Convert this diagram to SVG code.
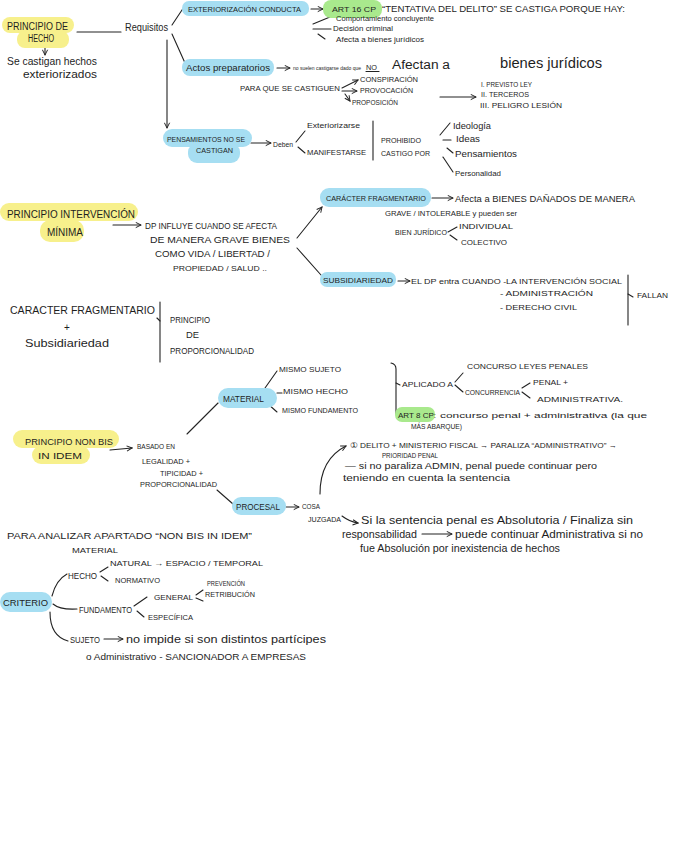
<svg xmlns="http://www.w3.org/2000/svg" width="673" height="848" viewBox="0 0 673 848" font-size="8">
<defs>
<style>
.t{font-family:"Liberation Sans",Arial,sans-serif;fill:#1e1e1e}
.ln{fill:none;stroke:#222;stroke-width:1.1;stroke-linecap:round}
.ar{fill:none;stroke:#222;stroke-width:1.1;stroke-linecap:round;marker-end:url(#ah)}
.y{fill:#f7f08c}
.b{fill:#a6def2}
.g{fill:#a9e98d}
</style>
<marker id="ah" viewBox="0 0 8 8" refX="7" refY="4" markerWidth="7" markerHeight="7" orient="auto" markerUnits="userSpaceOnUse">
<path d="M1,1 L7,4 L1,7" fill="none" stroke="#222" stroke-width="1.1"/>
</marker>
</defs>
<rect width="673" height="848" fill="#ffffff"/>

<g id="connectors">
<path class="ar" d="M45,46 L45,55"/>
<path class="ln" d="M77,32 L121,32"/>
<path class="ln" d="M172,25 L184,7"/>
<path class="ln" d="M172,34 L185,63"/>
<path class="ar" d="M167,40 L167,128"/>
<path class="ar" d="M311,9 L323,9"/>
<path class="ln" d="M313,24 L330,17"/>
<path class="ln" d="M313,29 L331,29"/>
<path class="ln" d="M318,34 L325,39"/>
<path class="ar" d="M277,68 L290,68"/>
<path class="ln" d="M366,71.5 L379,71.5"/>
<path class="ar" d="M342,88 L358,80"/>
<path class="ar" d="M342,91 L357,91"/>
<path class="ar" d="M345,94 L350,101"/>
<path class="ar" d="M440,97 L476,97"/>
<path class="ar" d="M251,143 L271,143"/>
<path class="ln" d="M296,142 L305,131"/>
<path class="ln" d="M298,147 L305,153"/>
<path class="ln" d="M373,121 L373,160"/>
<path class="ln" d="M440,135 L450,123"/>
<path class="ln" d="M443,140 L451,140"/>
<path class="ln" d="M447,148 L453,153"/>
<path class="ln" d="M443,157 L453,172"/>
<path class="ar" d="M113,225 L141,225"/>
<path class="ar" d="M297,238 L322,207"/>
<path class="ln" d="M297,248 L321,275"/>
<path class="ar" d="M432,198 L453,198"/>
<path class="ln" d="M448,232 L457,227"/>
<path class="ln" d="M450,235 L457,240"/>
<path class="ar" d="M398,281 L410,281"/>
<path class="ln" d="M628,275 L628,325"/>
<path class="ln" d="M628,294 L633,297"/>
<path class="ln" d="M160,302 L160,362"/>
<path class="ln" d="M157,318 L160,321"/>
<path class="ln" d="M265,388 L277,371"/>
<path class="ln" d="M277,393 L282,393"/>
<path class="ln" d="M268,404 L277,412"/>
<path class="ln" d="M218,403 L187,434"/>
<path class="ln" d="M391,363 Q396,364 396,369 L396,414"/>
<path class="ln" d="M396,383 L400,385"/>
<path class="ln" d="M455,382 L463,373"/>
<path class="ln" d="M455,385 L463,392"/>
<path class="ln" d="M522,388 L530,383"/>
<path class="ln" d="M522,392 L530,398"/>
<path class="ar" d="M110,450 L132,448"/>
<path class="ln" d="M217,490 L233,504"/>
<path class="ar" d="M286,507 L299,507"/>
<path class="ar" d="M320,494 C320,472 328,455 346,446"/>
<path class="ar" d="M342,516 Q350,522 358,523"/>
<path class="ar" d="M422,534 L452,534"/>
<path class="ln" d="M52,596 Q56,580 67,574"/>
<path class="ln" d="M53,604 Q60,610 77,609"/>
<path class="ln" d="M50,612 Q50,636 68,641"/>
<path class="ln" d="M100,572 L108,567"/>
<path class="ln" d="M101,576 L108,581"/>
<path class="ln" d="M134,606 L147,597"/>
<path class="ln" d="M137,611 L144,617"/>
<path class="ln" d="M196,595 L203,590"/>
<path class="ln" d="M196,598 L203,601"/>
<path class="ar" d="M104,639 L123,639"/>
</g>

<g id="principio-hecho">
<rect class="y" x="2" y="17" width="72" height="16" rx="8"/>
<rect class="y" x="17" y="31" width="52" height="17" rx="8"/>
<text class="t" x="7" y="30" font-size="10" textLength="61" lengthAdjust="spacingAndGlyphs">PRINCIPIO DE</text>
<text class="t" x="28" y="42" font-size="10" textLength="26" lengthAdjust="spacingAndGlyphs">HECHO</text>
</g>
<g id="se-castigan">
<text class="t" x="7" y="65" font-size="11" textLength="90" lengthAdjust="spacingAndGlyphs">Se castigan hechos</text>
<text class="t" x="23" y="78" font-size="11" textLength="74" lengthAdjust="spacingAndGlyphs">exteriorizados</text>
</g>
<g id="requisitos">
<text class="t" x="125" y="31" font-size="11" textLength="43" lengthAdjust="spacingAndGlyphs">Requisitos</text>
</g>
<g id="exteriorizacion">
<rect class="b" x="182" y="1" width="127" height="15" rx="7"/>
<text class="t" x="188" y="12" textLength="113" lengthAdjust="spacingAndGlyphs">EXTERIORIZACIÓN CONDUCTA</text>
</g>
<g id="art16">
<rect class="g" x="323" y="0" width="59" height="18" rx="8"/>
<text class="t" x="332" y="12" textLength="44" lengthAdjust="spacingAndGlyphs">ART 16 CP</text>
<text class="t" x="382" y="12" font-size="8.5" textLength="243" lengthAdjust="spacingAndGlyphs">“TENTATIVA DEL DELITO” SE CASTIGA PORQUE HAY:</text>
</g>
<g id="tentativa-items">
<text class="t" x="336" y="21" font-size="7.5" textLength="98" lengthAdjust="spacingAndGlyphs">Comportamiento concluyente</text>
<text class="t" x="333" y="31" font-size="7.5" textLength="60" lengthAdjust="spacingAndGlyphs">Decisión criminal</text>
<text class="t" x="336" y="42" textLength="88" lengthAdjust="spacingAndGlyphs">Afecta a bienes jurídicos</text>
</g>
<g id="actos">
<rect class="b" x="182" y="59" width="92" height="17" rx="8"/>
<text class="t" x="186" y="71" font-size="9.5" textLength="84" lengthAdjust="spacingAndGlyphs">Actos preparatorios</text>
</g>
<g id="no-suelen">
<text class="t" x="293" y="69.5" font-size="5" textLength="68" lengthAdjust="spacingAndGlyphs">no suelen castigarse dado que</text>
<text class="t" x="366" y="69.5" font-size="6.5" textLength="11" lengthAdjust="spacingAndGlyphs">NO</text>
<text class="t" x="392" y="69" font-size="12" textLength="58" lengthAdjust="spacingAndGlyphs">Afectan a</text>
<text class="t" x="500" y="68" font-size="14" textLength="102" lengthAdjust="spacingAndGlyphs">bienes jurídicos</text>
</g>
<g id="para-que">
<text class="t" x="240" y="91" font-size="7.5" textLength="100" lengthAdjust="spacingAndGlyphs">PARA QUE SE CASTIGUEN</text>
<text class="t" x="360" y="82" font-size="7" textLength="58" lengthAdjust="spacingAndGlyphs">CONSPIRACIÓN</text>
<text class="t" x="360" y="93" font-size="7.5" textLength="53" lengthAdjust="spacingAndGlyphs">PROVOCACIÓN</text>
<text class="t" x="352" y="105" font-size="7" textLength="46" lengthAdjust="spacingAndGlyphs">PROPOSICIÓN</text>
</g>
<g id="requisitos-list">
<text class="t" x="481" y="87" font-size="7" textLength="51" lengthAdjust="spacingAndGlyphs">I. PREVISTO LEY</text>
<text class="t" x="481" y="97" font-size="7" textLength="48" lengthAdjust="spacingAndGlyphs">II. TERCEROS</text>
<text class="t" x="480" y="108" font-size="7" textLength="82" lengthAdjust="spacingAndGlyphs">III. PELIGRO LESIÓN</text>
</g>
<g id="pensamientos">
<rect class="b" x="163" y="129" width="89" height="18" rx="9"/>
<rect class="b" x="188" y="143" width="52" height="20" rx="9"/>
<text class="t" x="167" y="142" font-size="7.5" textLength="78" lengthAdjust="spacingAndGlyphs">PENSAMIENTOS NO SE</text>
<text class="t" x="196" y="153" font-size="7.5" textLength="37" lengthAdjust="spacingAndGlyphs">CASTIGAN</text>
</g>
<g id="deben">
<text class="t" x="273" y="147" textLength="20" lengthAdjust="spacingAndGlyphs">Deben</text>
<text class="t" x="307" y="128" textLength="53" lengthAdjust="spacingAndGlyphs">Exteriorizarse</text>
<text class="t" x="307" y="155" textLength="59" lengthAdjust="spacingAndGlyphs">MANIFESTARSE</text>
</g>
<g id="prohibido">
<text class="t" x="381" y="143" textLength="40" lengthAdjust="spacingAndGlyphs">PROHIBIDO</text>
<text class="t" x="381" y="156" textLength="49" lengthAdjust="spacingAndGlyphs">CASTIGO POR</text>
<text class="t" x="453" y="129" font-size="9" textLength="38" lengthAdjust="spacingAndGlyphs">Ideología</text>
<text class="t" x="456" y="142" font-size="9" textLength="24" lengthAdjust="spacingAndGlyphs">Ideas</text>
<text class="t" x="455" y="157" font-size="9" textLength="62" lengthAdjust="spacingAndGlyphs">Pensamientos</text>
<text class="t" x="455" y="176" textLength="46" lengthAdjust="spacingAndGlyphs">Personalidad</text>
</g>

<g id="intervencion-minima">
<rect class="y" x="0" y="203" width="138" height="18" rx="9"/>
<rect class="y" x="40" y="220" width="44" height="22" rx="10"/>
<text class="t" x="7" y="218" font-size="10" textLength="128" lengthAdjust="spacingAndGlyphs">PRINCIPIO INTERVENCIÓN</text>
<text class="t" x="47" y="236" font-size="10" textLength="36" lengthAdjust="spacingAndGlyphs">MÍNIMA</text>
</g>
<g id="dp-influye">
<text class="t" x="145" y="229" font-size="8.5" textLength="132" lengthAdjust="spacingAndGlyphs">DP INFLUYE CUANDO SE AFECTA</text>
<text class="t" x="150" y="243" font-size="8.5" textLength="140" lengthAdjust="spacingAndGlyphs">DE MANERA GRAVE BIENES</text>
<text class="t" x="155" y="257" font-size="8.5" textLength="115" lengthAdjust="spacingAndGlyphs">COMO VIDA / LIBERTAD /</text>
<text class="t" x="173" y="271" textLength="94" lengthAdjust="spacingAndGlyphs">PROPIEDAD / SALUD ..</text>
</g>
<g id="caracter-fragmentario">
<rect class="b" x="320" y="188" width="111" height="19" rx="9"/>
<text class="t" x="326" y="201" textLength="100" lengthAdjust="spacingAndGlyphs">CARÁCTER FRAGMENTARIO</text>
</g>
<g id="afecta-bienes">
<text class="t" x="455" y="202" font-size="8.5" textLength="180" lengthAdjust="spacingAndGlyphs">Afecta a BIENES DAÑADOS DE MANERA</text>
<text class="t" x="385" y="216" textLength="132" lengthAdjust="spacingAndGlyphs">GRAVE / INTOLERABLE y pueden ser</text>
</g>
<g id="bien-juridico">
<text class="t" x="395" y="235" font-size="7" textLength="52" lengthAdjust="spacingAndGlyphs">BIEN JURÍDICO</text>
<text class="t" x="459" y="229" font-size="7" textLength="54" lengthAdjust="spacingAndGlyphs">INDIVIDUAL</text>
<text class="t" x="461" y="245" font-size="7" textLength="46" lengthAdjust="spacingAndGlyphs">COLECTIVO</text>
</g>
<g id="subsidiariedad">
<rect class="b" x="320" y="272" width="76" height="15" rx="7"/>
<text class="t" x="323" y="283" font-size="7.5" textLength="70" lengthAdjust="spacingAndGlyphs">SUBSIDIARIEDAD</text>
</g>
<g id="el-dp-entra">
<text class="t" x="411" y="284" textLength="211" lengthAdjust="spacingAndGlyphs">EL DP entra CUANDO -LA INTERVENCIÓN SOCIAL</text>
<text class="t" x="500" y="296" font-size="7.5" textLength="93" lengthAdjust="spacingAndGlyphs">- ADMINISTRACIÓN</text>
<text class="t" x="500" y="310" font-size="7.5" textLength="77" lengthAdjust="spacingAndGlyphs">- DERECHO CIVIL</text>
<text class="t" x="637" y="298" textLength="31" lengthAdjust="spacingAndGlyphs">FALLAN</text>
</g>

<g id="fragmentario-subsidiariedad">
<text class="t" x="10" y="314" font-size="10.5" textLength="145" lengthAdjust="spacingAndGlyphs">CARACTER FRAGMENTARIO</text>
<text class="t" x="64" y="331" font-size="10">+</text>
<text class="t" x="25" y="347" font-size="10.5" textLength="84" lengthAdjust="spacingAndGlyphs">Subsidiariedad</text>
</g>
<g id="proporcionalidad">
<text class="t" x="170" y="323" font-size="8.5" textLength="40" lengthAdjust="spacingAndGlyphs">PRINCIPIO</text>
<text class="t" x="186" y="338" font-size="8.5" textLength="13" lengthAdjust="spacingAndGlyphs">DE</text>
<text class="t" x="170" y="354" font-size="8.5" textLength="84" lengthAdjust="spacingAndGlyphs">PROPORCIONALIDAD</text>
</g>

<g id="material">
<rect class="b" x="218" y="388" width="59" height="20" rx="10"/>
<text class="t" x="223" y="402" font-size="8.5" textLength="41" lengthAdjust="spacingAndGlyphs">MATERIAL</text>
<text class="t" x="279" y="372" textLength="62" lengthAdjust="spacingAndGlyphs">MISMO SUJETO</text>
<text class="t" x="283" y="394" textLength="65" lengthAdjust="spacingAndGlyphs">MISMO HECHO</text>
<text class="t" x="282" y="413" textLength="76" lengthAdjust="spacingAndGlyphs">MISMO FUNDAMENTO</text>
</g>
<g id="aplicado">
<text class="t" x="402" y="387" textLength="51" lengthAdjust="spacingAndGlyphs">APLICADO A</text>
<text class="t" x="467" y="369" textLength="121" lengthAdjust="spacingAndGlyphs">CONCURSO LEYES PENALES</text>
<text class="t" x="465" y="395" font-size="7.5" textLength="55" lengthAdjust="spacingAndGlyphs">CONCURRENCIA</text>
<text class="t" x="533" y="385" font-size="7.5" textLength="35" lengthAdjust="spacingAndGlyphs">PENAL +</text>
<text class="t" x="537" y="402" font-size="7.5" textLength="86" lengthAdjust="spacingAndGlyphs">ADMINISTRATIVA.</text>
</g>
<g id="art8">
<rect class="g" x="395" y="407" width="40" height="15" rx="7"/>
<text class="t" x="398" y="418" font-size="7.5" textLength="38" lengthAdjust="spacingAndGlyphs">ART 8 CP:</text>
<text class="t" x="440" y="418" textLength="207" lengthAdjust="spacingAndGlyphs">concurso penal + administrativa (la que</text>
<text class="t" x="411" y="429" font-size="7.5" textLength="51" lengthAdjust="spacingAndGlyphs">MÁS ABARQUE)</text>
</g>

<g id="non-bis">
<rect class="y" x="13" y="430" width="106" height="18" rx="9"/>
<rect class="y" x="32" y="446" width="58" height="18" rx="9"/>
<text class="t" x="25" y="445" font-size="8.5" textLength="88" lengthAdjust="spacingAndGlyphs">PRINCIPIO NON BIS</text>
<text class="t" x="38" y="459" font-size="8.5" textLength="44" lengthAdjust="spacingAndGlyphs">IN IDEM</text>
</g>
<g id="basado">
<text class="t" x="137" y="449" font-size="7.5" textLength="38" lengthAdjust="spacingAndGlyphs">BASADO EN</text>
<text class="t" x="142" y="464" font-size="7.5" textLength="48" lengthAdjust="spacingAndGlyphs">LEGALIDAD +</text>
<text class="t" x="160" y="476" font-size="7.5" textLength="43" lengthAdjust="spacingAndGlyphs">TIPICIDAD +</text>
<text class="t" x="140" y="487" font-size="7.5" textLength="77" lengthAdjust="spacingAndGlyphs">PROPORCIONALIDAD</text>
</g>
<g id="procesal">
<rect class="b" x="232" y="497" width="54" height="18" rx="9"/>
<text class="t" x="236" y="510" font-size="8.5" textLength="44" lengthAdjust="spacingAndGlyphs">PROCESAL</text>
</g>
<g id="cosa-juzgada">
<text class="t" x="302" y="509" font-size="7.5" textLength="18" lengthAdjust="spacingAndGlyphs">COSA</text>
<text class="t" x="308" y="522" font-size="7.5" textLength="33" lengthAdjust="spacingAndGlyphs">JUZGADA</text>
</g>
<g id="delito-ministerio">
<text class="t" x="350" y="448" font-size="7.5" textLength="267" lengthAdjust="spacingAndGlyphs">① DELITO + MINISTERIO FISCAL → PARALIZA “ADMINISTRATIVO” →</text>
<text class="t" x="382" y="458" font-size="7.5" textLength="56" lengthAdjust="spacingAndGlyphs">PRIORIDAD PENAL</text>
<text class="t" x="345" y="469" font-size="9.5" textLength="252" lengthAdjust="spacingAndGlyphs">— si no paraliza ADMIN, penal puede continuar pero</text>
<text class="t" x="343" y="481" font-size="9" textLength="167" lengthAdjust="spacingAndGlyphs">teniendo en cuenta la sentencia</text>
</g>
<g id="sentencia-absolutoria">
<text class="t" x="361" y="524" font-size="11.5" textLength="272" lengthAdjust="spacingAndGlyphs">Si la sentencia penal es Absolutoria / Finaliza sin</text>
<text class="t" x="342" y="538" font-size="10.5" textLength="75" lengthAdjust="spacingAndGlyphs">responsabilidad</text>
<text class="t" x="455" y="538" font-size="10.5" textLength="188" lengthAdjust="spacingAndGlyphs">puede continuar Administrativa si no</text>
<text class="t" x="360" y="552" font-size="10.5" textLength="200" lengthAdjust="spacingAndGlyphs">fue Absolución por inexistencia de hechos</text>
</g>

<g id="para-analizar">
<text class="t" x="7" y="539" font-size="8.5" textLength="245" lengthAdjust="spacingAndGlyphs">PARA ANALIZAR APARTADO “NON BIS IN IDEM”</text>
<text class="t" x="72" y="553" textLength="46" lengthAdjust="spacingAndGlyphs">MATERIAL</text>
</g>
<g id="criterio">
<rect class="b" x="0" y="592" width="52" height="20" rx="10"/>
<text class="t" x="3" y="606" font-size="8.5" textLength="45" lengthAdjust="spacingAndGlyphs">CRITERIO</text>
</g>
<g id="hecho">
<text class="t" x="68" y="579" font-size="8.5" textLength="29" lengthAdjust="spacingAndGlyphs">HECHO</text>
<text class="t" x="110" y="566" textLength="153" lengthAdjust="spacingAndGlyphs">NATURAL → ESPACIO / TEMPORAL</text>
<text class="t" x="115" y="583" textLength="45" lengthAdjust="spacingAndGlyphs">NORMATIVO</text>
</g>
<g id="fundamento">
<text class="t" x="79" y="613" font-size="8.5" textLength="53" lengthAdjust="spacingAndGlyphs">FUNDAMENTO</text>
<text class="t" x="154" y="600" textLength="39" lengthAdjust="spacingAndGlyphs">GENERAL</text>
<text class="t" x="207" y="586" font-size="6.5" textLength="38" lengthAdjust="spacingAndGlyphs">PREVENCIÓN</text>
<text class="t" x="205" y="597" font-size="6.5" textLength="50" lengthAdjust="spacingAndGlyphs">RETRIBUCIÓN</text>
<text class="t" x="148" y="620" textLength="45" lengthAdjust="spacingAndGlyphs">ESPECÍFICA</text>
</g>
<g id="sujeto">
<text class="t" x="70" y="643" font-size="8.5" textLength="30" lengthAdjust="spacingAndGlyphs">SUJETO</text>
<text class="t" x="126" y="643" font-size="11" textLength="200" lengthAdjust="spacingAndGlyphs">no impide si son distintos partícipes</text>
<text class="t" x="86" y="660" font-size="9" textLength="220" lengthAdjust="spacingAndGlyphs">o Administrativo - SANCIONADOR A EMPRESAS</text>
</g>
</svg>
